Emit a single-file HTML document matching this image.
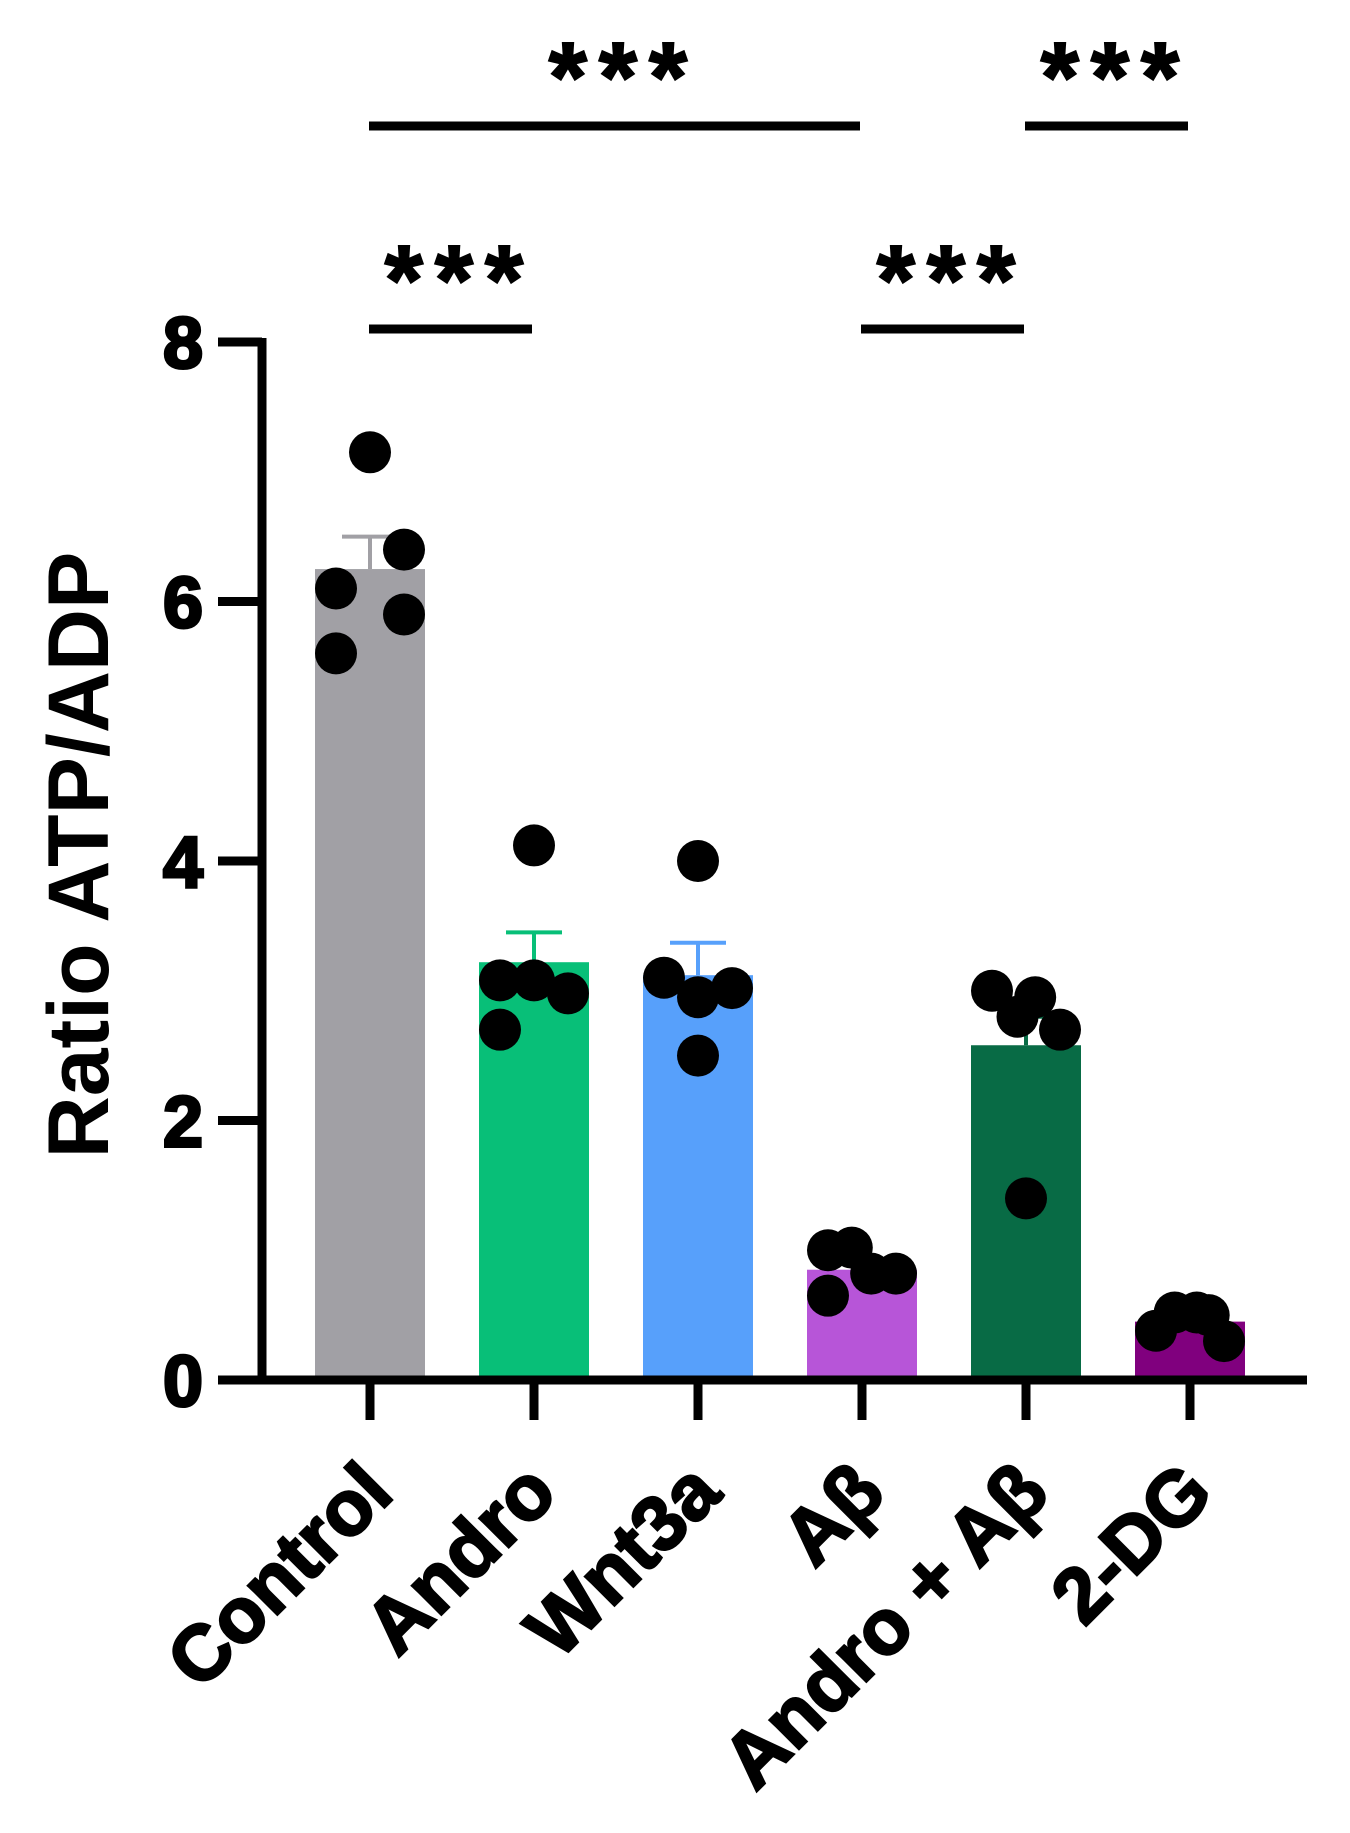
<!DOCTYPE html>
<html><head><meta charset="utf-8"><style>
html,body{margin:0;padding:0;background:#fff}
svg{display:block}
text{font-family:"Liberation Sans",Arial,sans-serif;font-weight:bold;fill:#000}
</style></head><body>
<svg id="chart" width="1350" height="1833" viewBox="0 0 1350 1833"></svg>
<script>
const categories=["Control","Andro","Wnt3a","Aβ","Andro + Aβ","2-DG"];
const means=[6.25,3.22,3.12,0.85,2.58,0.45];
const errTop=[6.5,3.45,3.37,0.92,2.8,0.5];
const colors=["#a1a0a5","#08bf78","#57a0fb","#b755d8","#086b45","#80007e"];
const points=[[7.15,6.1,5.6,6.4,5.9],[4.12,3.08,3.08,2.98,2.7],[4.0,3.1,2.95,3.02,2.5],[1.0,1.02,0.82,0.82,0.65],[3.0,2.8,2.95,2.7,1.4],[0.38,0.52,0.52,0.5,0.3]];
const jitter=[[0,-1,-1,1,1],[0,-1,0,1,-1],[0,-1,0,1,0],[-1,-0.3,0.27,1,-1],[-1,-0.25,0.27,1,0],[-1,-0.45,0.2,0.55,1]];
const yTicks=[0,2,4,6,8];
const sigBars=[[0,3,"***",0],[4,5,"***",0],[0,1,"***",1],[3,4,"***",1]];

const NS="http://www.w3.org/2000/svg";
const svg=document.getElementById("chart");
function y(v){return 1380-v*129.75;}
function x(i){return 370+i*164;}
function mk(tag,attrs,parent){const e=document.createElementNS(NS,tag);for(const k in attrs)e.setAttribute(k,attrs[k]);(parent||svg).appendChild(e);return e;}

categories.forEach((c,i)=>{
  const b=mk("rect",{x:x(i)-55,y:y(means[i]),width:110,height:y(0)-y(means[i]),fill:colors[i]});
  
  
  const ec=colors[i];
  const e1=mk("line",{x1:x(i),x2:x(i),y1:y(means[i]),y2:y(errTop[i]),stroke:ec,"stroke-width":4});
  
  
  const e2=mk("line",{x1:x(i)-28,x2:x(i)+28,y1:y(errTop[i]),y2:y(errTop[i]),stroke:ec,"stroke-width":4});
  
  
});
points.forEach((arr,i)=>{
  arr.forEach((v,j)=>{
    const p=mk("circle",{cx:x(i)+jitter[i][j]*34,cy:y(v),r:21,fill:"#000"});
    
    
  });
});
const ya=mk("line",{x1:262,x2:262,y1:y(8)-4,y2:y(0)+4,stroke:"#000","stroke-width":9});


const xa=mk("line",{x1:258,x2:1307,y1:y(0),y2:y(0),stroke:"#000","stroke-width":9});


yTicks.forEach(t=>{
  const tk=mk("line",{x1:218,x2:262,y1:y(t),y2:y(t),stroke:"#000","stroke-width":9});
  
  
  const tl=mk("text",{x:203,y:y(t)+26,"text-anchor":"end","font-size":72,stroke:"#000","stroke-width":3});
  tl.textContent=t;
  
  
});
categories.forEach((c,i)=>{
  const tk=mk("line",{x1:x(i),x2:x(i),y1:y(0),y2:1420,stroke:"#000","stroke-width":9});
  
  
  const tl=mk("text",{x:x(i)+26,y:1496,"text-anchor":"end","font-size":78,stroke:"#000","stroke-width":2.5,transform:"rotate(-45 "+(x(i)+26)+" 1496)"});
  tl.textContent=c;
  
  
});
const yt=mk("text",{x:0,y:0,"text-anchor":"middle","font-size":86,transform:"translate(108 855) rotate(-90)"});
yt.textContent="Ratio ATP/ADP";


sigBars.forEach(s=>{
  const ly=s[3]===0?126:329;
  const l=mk("line",{x1:x(s[0])-1,x2:x(s[1])-2,y1:ly,y2:ly,stroke:"#000","stroke-width":9});
  
  
  const t=mk("text",{x:(x(s[0])+x(s[1]))/2+8,y:ly-15,"text-anchor":"middle","font-size":98,"letter-spacing":"12",stroke:"#000","stroke-width":2});
  t.textContent=s[2];
  
  
});
</script>
</body></html>
